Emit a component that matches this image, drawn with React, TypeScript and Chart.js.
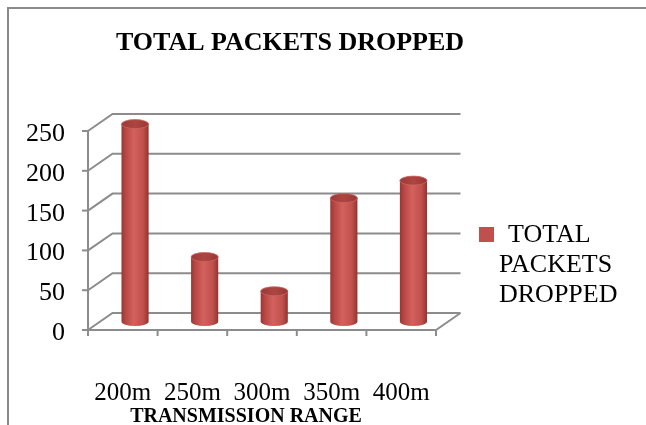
import React, { useEffect, useRef } from "react";
import { Chart, registerables } from "chart.js";

Chart.register(...registerables);

const categories = ["200m", "250m", "300m", "350m", "400m"];
const packetsDropped = [248, 81, 38, 155, 177];
const yTicks = [0, 50, 100, 150, 200, 250];
const seriesLabel = "TOTAL PACKETS DROPPED";
const chartTitle = "TOTAL PACKETS DROPPED";
const xAxisTitle = "TRANSMISSION RANGE";

// depth of the 3-D box (back wall offset from the front plane)
const DX = 24.5;
const DY = -17;
const SERIF = '"Liberation Serif", "Times New Roman", serif';
const GRID = "#8c8c8c";

const cylinderPlugin = {
  id: "cylinder3d",
  beforeDraw(chart: any) {
    const { ctx, chartArea: a, scales } = chart;
    const x = scales.x;
    const y = scales.y;
    ctx.save();
    ctx.fillStyle = "#ffffff";
    ctx.fillRect(0, 0, chart.width, chart.height);

    // outer frame (left and top edges)
    ctx.strokeStyle = "#8a8a8a";
    ctx.lineWidth = 2;
    ctx.beginPath();
    ctx.moveTo(8, chart.height);
    ctx.lineTo(8, 8);
    ctx.lineTo(chart.width, 8);
    ctx.stroke();

    // side wall diagonals + back wall gridlines + left ticks
    ctx.strokeStyle = GRID;
    ctx.lineWidth = 2;
    for (const v of yTicks) {
      const py = y.getPixelForValue(v);
      ctx.beginPath();
      ctx.moveTo(a.left, py);
      ctx.lineTo(a.left + DX, py + DY);
      ctx.lineTo(a.right + DX, py + DY);
      ctx.stroke();
      ctx.beginPath();
      ctx.moveTo(a.left - 6, py);
      ctx.lineTo(a.left, py);
      ctx.stroke();
    }

    // floor front and right edges
    const y0 = y.getPixelForValue(0);
    ctx.beginPath();
    ctx.moveTo(a.left, y0);
    ctx.lineTo(a.right, y0);
    ctx.lineTo(a.right + DX, y0 + DY);
    ctx.stroke();

    // vertical value axis
    ctx.beginPath();
    ctx.moveTo(a.left, y.getPixelForValue(yTicks[yTicks.length - 1]));
    ctx.lineTo(a.left, y0 + 6);
    ctx.stroke();

    // category boundary ticks
    const catW = (a.right - a.left) / categories.length;
    for (let i = 1; i <= categories.length; i++) {
      const bx = x.getPixelForValue(i - 1) + catW / 2;
      ctx.beginPath();
      ctx.moveTo(bx, y0);
      ctx.lineTo(bx, y0 + 6);
      ctx.stroke();
    }
    ctx.restore();
  },
  beforeDatasetsDraw(chart: any) {
    const { ctx } = chart;
    const meta = chart.getDatasetMeta(0);
    ctx.save();
    meta.data.forEach((el: any) => {
      const { x: ex, y: ey, base, width } = el.getProps(["x", "y", "base", "width"], true);
      const cx = ex + DX / 2;
      const top = ey + DY / 2;
      const bot = base + DY / 2;
      const rx = width / 2;
      const ry = 4.5;

      const g = ctx.createLinearGradient(cx - rx, 0, cx + rx, 0);
      g.addColorStop(0, "#9a3633");
      g.addColorStop(0.15, "#b84643");
      g.addColorStop(0.45, "#d3615d");
      g.addColorStop(0.8, "#c0504c");
      g.addColorStop(1, "#923330");
      ctx.fillStyle = g;
      ctx.beginPath();
      ctx.moveTo(cx - rx, top);
      ctx.lineTo(cx - rx, bot);
      ctx.ellipse(cx, bot, rx, ry, 0, Math.PI, 0, true);
      ctx.lineTo(cx + rx, top);
      ctx.closePath();
      ctx.fill();

      // cap
      const tg = ctx.createLinearGradient(cx - rx, 0, cx + rx, 0);
      tg.addColorStop(0, "#9b3a37");
      tg.addColorStop(0.5, "#ad4643");
      tg.addColorStop(1, "#983734");
      ctx.fillStyle = tg;
      ctx.beginPath();
      ctx.ellipse(cx, top, rx, ry, 0, 0, Math.PI * 2);
      ctx.fill();
      ctx.strokeStyle = "rgba(205,100,96,0.8)";
      ctx.lineWidth = 1;
      ctx.stroke();
    });
    ctx.restore();
    return false;
  },
  afterDraw(chart: any) {
    const { ctx, chartArea: a, scales } = chart;
    const x = scales.x;
    const y = scales.y;
    ctx.save();
    ctx.fillStyle = "#000000";

    // title
    ctx.font = `bold 26px ${SERIF}`;
    ctx.textAlign = "center";
    ctx.textBaseline = "alphabetic";
    ctx.fillText(chartTitle, 290, 50);

    // value labels
    ctx.font = `26px ${SERIF}`;
    ctx.textAlign = "right";
    for (const v of yTicks) {
      ctx.fillText(String(v), 65, y.getPixelForValue(v) + 10);
    }

    // category labels
    ctx.font = `25px ${SERIF}`;
    ctx.textAlign = "center";
    categories.forEach((c, i) => {
      ctx.fillText(c, x.getPixelForValue(i), 400);
    });

    // axis title
    ctx.font = `bold 20px ${SERIF}`;
    ctx.fillText(xAxisTitle, 246, 422);

    // legend
    const ds = chart.data.datasets[0];
    ctx.fillStyle = ds.backgroundColor;
    ctx.fillRect(479, 227, 15, 15);
    ctx.fillStyle = "#000000";
    ctx.font = `26px ${SERIF}`;
    ctx.textAlign = "left";
    const words = String(ds.label).split(" ");
    words.forEach((w, i) => {
      ctx.fillText(w, i === 0 ? 508 : 499, 242 + i * 30);
    });
    ctx.restore();
  },
};

export default function App() {
  const ref = useRef<HTMLCanvasElement>(null);

  useEffect(() => {
    document.body.style.margin = "0";
    const canvas = ref.current;
    if (!canvas) return;
    const chart = new Chart(canvas, {
      type: "bar",
      data: {
        labels: categories,
        datasets: [
          {
            label: seriesLabel,
            data: packetsDropped,
            backgroundColor: "#C0504D",
            categoryPercentage: 1,
            barPercentage: 0.39,
          },
        ],
      },
      options: {
        responsive: false,
        animation: false,
        devicePixelRatio: 1,
        layout: { padding: { left: 88, right: 210, top: 131, bottom: 95 } },
        scales: {
          x: { display: false },
          y: { display: false, min: 0, max: 250, ticks: { stepSize: 50 } },
        },
        plugins: {
          legend: { display: false },
          title: { display: false },
          tooltip: { enabled: false },
        },
      },
      plugins: [cylinderPlugin],
    });
    return () => chart.destroy();
  }, []);

  return (
    <div style={{ width: 646, height: 425 }}>
      <canvas ref={ref} width={646} height={425} style={{ display: "block" }} />
    </div>
  );
}
